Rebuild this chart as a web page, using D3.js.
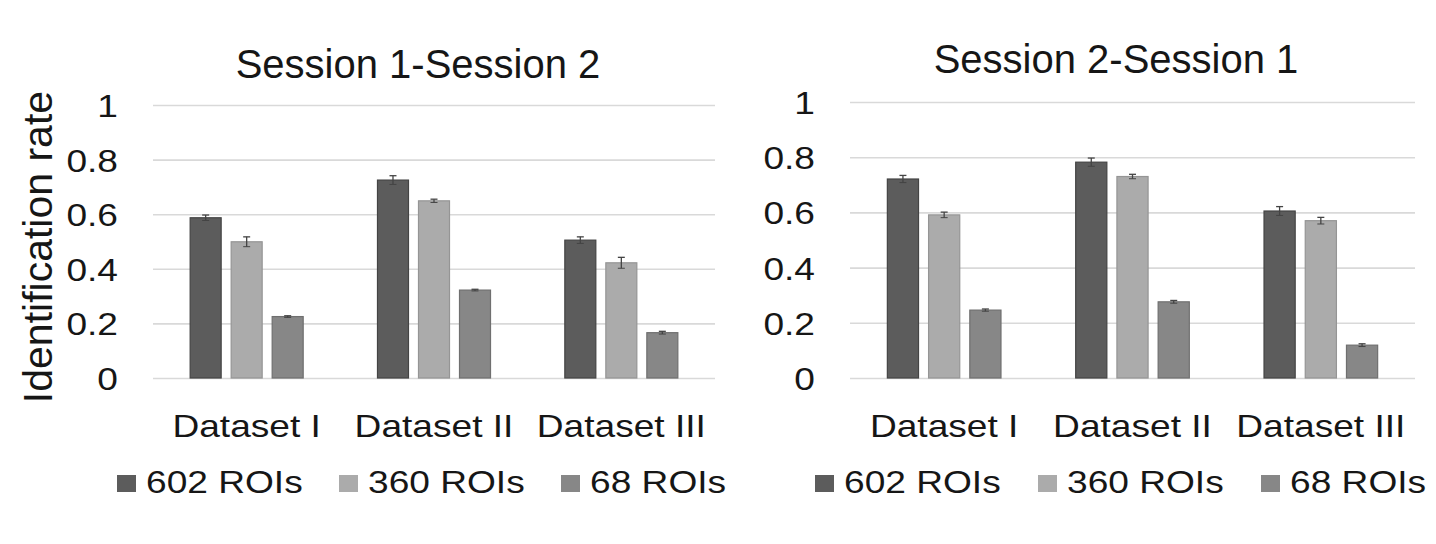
<!DOCTYPE html>
<html>
<head>
<meta charset="utf-8">
<script src="https://cdn.jsdelivr.net/npm/d3@7"></script>
<style>
  html, body { margin: 0; padding: 0; background: #fff; }
  svg text { font-family: Arial, "Liberation Sans", Helvetica, sans-serif; fill: #161616; }
</style>
</head>
<body>
<svg id="chart" width="1436" height="544"></svg>
<script>
// ---------- data ----------
const categories = ["Dataset I", "Dataset II", "Dataset III"];
const series = ["602 ROIs", "360 ROIs", "68 ROIs"];
const yTicks = [0, 0.2, 0.4, 0.6, 0.8, 1];
const yTickLabels = ["0", "0.2", "0.4", "0.6", "0.8", "1"];

// Session 1-Session 2
const s12_602 = [0.587, 0.725, 0.505];
const s12_360 = [0.499, 0.649, 0.422];
const s12_68  = [0.225, 0.322, 0.166];
const s12_602_err = [0.010, 0.016, 0.012];
const s12_360_err = [0.018, 0.006, 0.020];
const s12_68_err  = [0.003, 0.003, 0.005];

// Session 2-Session 1
const s21_602 = [0.721, 0.782, 0.605];
const s21_360 = [0.591, 0.730, 0.570];
const s21_68  = [0.246, 0.276, 0.119];
const s21_602_err = [0.013, 0.015, 0.016];
const s21_360_err = [0.010, 0.008, 0.012];
const s21_68_err  = [0.004, 0.005, 0.005];

const fills   = ["#5c5c5c", "#ababab", "#878787"];
const strokes = ["#444444", "#959595", "#6f6f6f"];

// ---------- drawing ----------
const svg = d3.select("#chart");
const SX = 1.16; // horizontal stretch of the reference's text

function panel(cfg) {
  const g = svg.append("g");
  const x0 = d3.scaleBand().domain(categories).range([cfg.left, cfg.right]).padding(0);
  const x1 = d3.scaleBand().domain(series).range([0, x0.bandwidth()])
    .paddingInner(0.244).paddingOuter(0.906);
  const y = d3.scaleLinear().domain([0, 1]).range([cfg.bottom, cfg.top]);

  // gridlines + y tick labels
  const yAxis = d3.axisLeft(y).tickValues(yTicks)
    .tickFormat((d, i) => yTickLabels[i])
    .tickSize(-(cfg.right - cfg.left)).tickPadding(0);
  const ya = g.append("g").attr("transform", `translate(${cfg.left},0)`).call(yAxis);
  ya.select(".domain").remove();
  ya.selectAll(".tick line").attr("stroke", "#d9d9d9").attr("stroke-width", 1.6);
  ya.selectAll(".tick text")
    .attr("x", null).attr("dy", "0.36em")
    .attr("transform", `translate(-35,0) scale(${SX},1)`)
    .attr("text-anchor", "end")
    .style("font-size", "32px").style("fill", "#161616");

  // category labels
  const xAxis = d3.axisBottom(x0).tickSize(0).tickPadding(0);
  const xa = g.append("g").attr("transform", `translate(0,${cfg.bottom})`).call(xAxis);
  xa.select(".domain").remove();
  xa.selectAll(".tick text")
    .attr("y", null).attr("dy", null)
    .attr("transform", `translate(0,59) scale(${SX},1)`)
    .style("font-size", "32px").style("fill", "#161616");

  // bars
  const rows = categories.map((c, i) => ({
    cat: c,
    vals: series.map((s, k) => ({ s, k, v: cfg.values[k][i], e: cfg.errors[k][i] }))
  }));
  const grp = g.selectAll("g.grp").data(rows).join("g")
    .attr("class", "grp")
    .attr("transform", d => `translate(${x0(d.cat)},0)`);
  grp.selectAll("rect").data(d => d.vals).join("rect")
    .attr("x", d => x1(d.s))
    .attr("width", x1.bandwidth())
    .attr("y", d => y(d.v))
    .attr("height", d => y(0) - y(d.v))
    .attr("fill", d => fills[d.k])
    .attr("stroke", d => strokes[d.k])
    .attr("stroke-width", 1.2);

  // error bars
  const eb = grp.selectAll("g.err").data(d => d.vals).join("g").attr("class", "err")
    .attr("transform", d => `translate(${x1(d.s) + x1.bandwidth() / 2},0)`);
  eb.append("line").attr("x1", 0).attr("x2", 0)
    .attr("y1", d => y(d.v + d.e)).attr("y2", d => y(d.v - d.e))
    .attr("stroke", "#444").attr("stroke-width", 1.3);
  eb.append("line").attr("x1", -3.5).attr("x2", 3.5)
    .attr("y1", d => y(d.v + d.e)).attr("y2", d => y(d.v + d.e))
    .attr("stroke", "#444").attr("stroke-width", 1.3);
  eb.append("line").attr("x1", -3.5).attr("x2", 3.5)
    .attr("y1", d => y(d.v - d.e)).attr("y2", d => y(d.v - d.e))
    .attr("stroke", "#444").attr("stroke-width", 1);

  // title
  g.append("text")
    .attr("x", cfg.titleX).attr("y", cfg.titleY)
    .attr("text-anchor", "middle")
    .style("font-size", "40px")
    .text(cfg.title);

  // legend
  const lg = g.selectAll("g.leg").data(series).join("g").attr("class", "leg")
    .attr("transform", (d, i) => `translate(${cfg.legX[i]},0)`);
  lg.append("rect").attr("x", 0).attr("y", 475).attr("width", 19).attr("height", 17)
    .attr("fill", (d, i) => fills[i]);
  lg.append("text")
    .attr("transform", `translate(29,493) scale(${SX},1)`)
    .style("font-size", "32px")
    .text(d => d);
}

panel({
  left: 153, right: 715, top: 105, bottom: 378,
  values: [s12_602, s12_360, s12_68],
  errors: [s12_602_err, s12_360_err, s12_68_err],
  title: "Session 1-Session 2", titleX: 418, titleY: 78,
  legX: [117, 339, 561]
});
panel({
  left: 850, right: 1415, top: 102, bottom: 378,
  values: [s21_602, s21_360, s21_68],
  errors: [s21_602_err, s21_360_err, s21_68_err],
  title: "Session 2-Session 1", titleX: 1116, titleY: 73,
  legX: [815, 1038, 1261]
});

// y-axis title
svg.append("text")
  .attr("transform", "translate(52,247) rotate(-90)")
  .attr("text-anchor", "middle")
  .style("font-size", "41px")
  .text("Identification rate");
</script>
</body>
</html>
